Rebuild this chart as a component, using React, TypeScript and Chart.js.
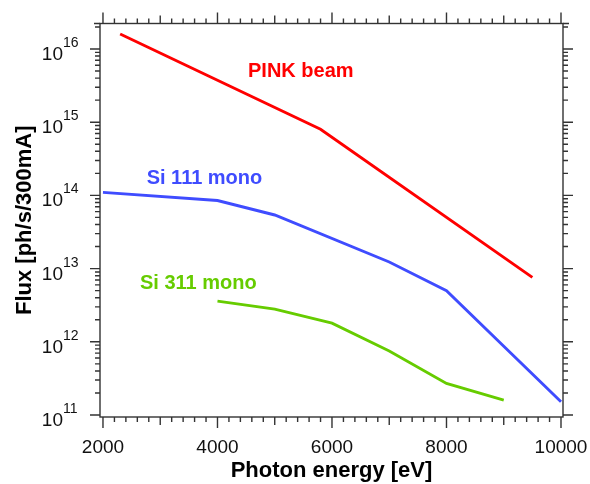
import React, { useEffect, useRef } from "react";
import { Chart, registerables } from "chart.js";

Chart.register(...registerables);

// ---- data ----
const pinkEnergy = [2300, 5800, 9500];
const pinkFlux = [1.6e16, 8.0e14, 7.6e12];

const si111Energy = [2000, 4000, 5000, 7000, 8000, 9000, 10000];
const si111Flux = [1.1e14, 8.5e13, 5.4e13, 1.23e13, 5.0e12, 8.7e11, 1.52e11];

const si311Energy = [4000, 5000, 6000, 7000, 8000, 9000];
const si311Flux = [3.6e12, 2.8e12, 1.8e12, 7.5e11, 2.7e11, 1.6e11];

const xTickLabels = [2000, 4000, 6000, 8000, 10000];
const yDecades = [11, 12, 13, 14, 15, 16];

const seriesNames = ["PINK beam", "Si 111 mono", "Si 311 mono"];
const seriesColors = ["#ff0000", "#3f4cff", "#66cc00"];
// label anchor (data coords: energy, flux) for in-plot series names
const labelEnergy = [4533, 2763, 2646];
const labelFlux = [4.14e15, 1.42e14, 5.26e12];

const xTitle = "Photon energy [eV]";
const yTitle = "Flux [ph/s/300mA]";

const X_MIN = 1948;
const X_MAX = 10035;
const Y_MIN = Math.pow(10, 10.9727);
const Y_MAX = Math.pow(10, 16.348);

const FONT = "'Liberation Sans', Arial, Helvetica, sans-serif";
const AXIS_COLOR = "#333333";

const axesPlugin = {
  id: "igorAxes",
  afterDraw(chart: any) {
    const ctx = chart.ctx as CanvasRenderingContext2D;
    const { left, right, top, bottom } = chart.chartArea;
    const xs = chart.scales.x;
    const ys = chart.scales.y;
    ctx.save();
    ctx.strokeStyle = AXIS_COLOR;
    ctx.lineWidth = 1.4;
    ctx.strokeRect(left, top, right - left, bottom - top);

    // corner stubs
    ctx.beginPath();
    ctx.moveTo(left - 6, top);
    ctx.lineTo(left, top);
    ctx.moveTo(right, top);
    ctx.lineTo(right + 6, top);
    ctx.stroke();

    // x ticks (top and bottom, outward)
    ctx.beginPath();
    for (let v = 2000; v <= 10000; v += 200) {
      const px = xs.getPixelForValue(v);
      let len = 5;
      if (v % 2000 === 0) len = 11;
      else if (v % 1000 === 0) len = 8;
      ctx.moveTo(px, bottom);
      ctx.lineTo(px, bottom + len);
      ctx.moveTo(px, top);
      ctx.lineTo(px, top - len);
    }
    // y ticks (left and right, outward)
    for (let e = 10; e <= 16; e++) {
      for (let m = 1; m <= 9; m++) {
        const val = m * Math.pow(10, e);
        if (val < Y_MIN || val > Y_MAX) continue;
        const py = ys.getPixelForValue(val);
        const len = m === 1 ? 10 : 5;
        ctx.moveTo(left, py);
        ctx.lineTo(left - len, py);
        ctx.moveTo(right, py);
        ctx.lineTo(right + len, py);
      }
    }
    ctx.stroke();

    // x tick labels
    ctx.fillStyle = "#111111";
    ctx.font = `19px ${FONT}`;
    ctx.textAlign = "center";
    ctx.textBaseline = "alphabetic";
    xTickLabels.forEach((v) => {
      ctx.fillText(String(v), xs.getPixelForValue(v), bottom + 36);
    });

    // y tick labels 10^e
    yDecades.forEach((e) => {
      const py = ys.getPixelForValue(Math.pow(10, e));
      const xr = left - 37;
      ctx.font = `19px ${FONT}`;
      ctx.textAlign = "right";
      ctx.fillText("10", xr, py + 11);
      ctx.font = `14px ${FONT}`;
      ctx.textAlign = "left";
      ctx.fillText(String(e), xr, py - 2);
    });

    // axis titles
    ctx.fillStyle = "#000000";
    ctx.font = `bold 22px ${FONT}`;
    ctx.textAlign = "center";
    ctx.fillText(xTitle, (left + right) / 2, bottom + 60);
    ctx.save();
    ctx.translate(31, (top + bottom) / 2);
    ctx.rotate(-Math.PI / 2);
    ctx.fillText(yTitle, 0, 0);
    ctx.restore();

    // series labels
    ctx.font = `bold 20px ${FONT}`;
    ctx.textAlign = "left";
    seriesNames.forEach((name, i) => {
      ctx.fillStyle = seriesColors[i];
      ctx.fillText(
        name,
        xs.getPixelForValue(labelEnergy[i]),
        ys.getPixelForValue(labelFlux[i])
      );
    });
    ctx.restore();
  },
};

function toPoints(xs: number[], ys: number[]) {
  return xs.map((x, i) => ({ x, y: ys[i] }));
}

export default function App() {
  const ref = useRef<HTMLCanvasElement>(null);
  useEffect(() => {
    if (!ref.current) return;
    const chart = new Chart(ref.current, {
      type: "line",
      data: {
        datasets: [
          { label: seriesNames[0], data: toPoints(pinkEnergy, pinkFlux) },
          { label: seriesNames[1], data: toPoints(si111Energy, si111Flux) },
          { label: seriesNames[2], data: toPoints(si311Energy, si311Flux) },
        ].map((d, i) => ({
          ...d,
          borderColor: seriesColors[i],
          backgroundColor: seriesColors[i],
          borderWidth: 2.9,
          pointRadius: 0,
          tension: 0,
          fill: false,
        })),
      },
      options: {
        responsive: false,
        animation: false,
        layout: { padding: { left: 100, right: 27, top: 23.5, bottom: 67 } },
        plugins: { legend: { display: false }, tooltip: { enabled: false } },
        scales: {
          x: { type: "linear", min: X_MIN, max: X_MAX, display: false },
          y: { type: "logarithmic", min: Y_MIN, max: Y_MAX, display: false },
        },
      },
      plugins: [axesPlugin],
    });
    return () => chart.destroy();
  }, []);
  return (
    <div style={{ position: "absolute", left: 0, top: 0, width: 590, height: 484, background: "#fff" }}>
      <canvas ref={ref} width={590} height={484} style={{ display: "block", width: 590, height: 484 }} />
    </div>
  );
}
